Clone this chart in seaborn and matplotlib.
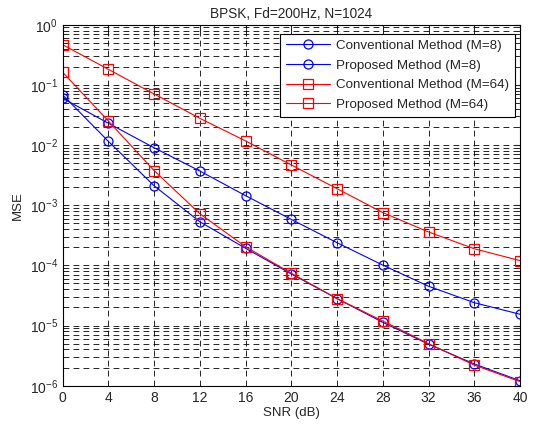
import pandas as pd
import matplotlib.pyplot as plt
import seaborn as sns
import numpy as np

# === Data ===
snr = [0, 4, 8, 12, 16, 20, 24, 28, 32, 36, 40]
conv_m8 = [0.060, 0.023, 0.0090, 0.0037, 0.00144, 5.8e-4, 2.38e-4, 1.01e-4, 4.5e-5, 2.4e-5, 1.54e-5]
prop_m8 = [0.068, 0.0115, 0.0021, 5.3e-4, 1.92e-4, 7.2e-5, 2.8e-5, 1.13e-5, 4.9e-6, 2.3e-6, 1.21e-6]
conv_m64 = [0.465, 0.181, 0.0705, 0.0278, 0.0117, 0.00466, 0.00188, 7.55e-4, 3.59e-4, 1.89e-4, 1.2e-4]
prop_m64 = [0.162, 0.025, 0.00375, 7.2e-4, 2.04e-4, 7.4e-5, 2.8e-5, 1.19e-5, 5.0e-6, 2.2e-6, 1.17e-6]

series = [
    ('Conventional Method (M=8)', conv_m8, 'blue', 'o'),
    ('Proposed Method (M=8)', prop_m8, 'blue', 'o'),
    ('Conventional Method (M=64)', conv_m64, 'red', 's'),
    ('Proposed Method (M=64)', prop_m64, 'red', 's'),
]

# === Plot Setup ===
sns.set_style("white")
plt.rcParams['font.family'] = ['Liberation Sans', 'DejaVu Sans']
plt.rcParams['mathtext.fontset'] = 'custom'
plt.rcParams['mathtext.rm'] = 'Liberation Sans'

fig = plt.figure(figsize=(5.34, 4.24), dpi=100)
ax = fig.add_axes([0.1174, 0.0903, 0.8564, 0.8514])

for name, vals, color, marker in series:
    df = pd.DataFrame({'SNR': snr, 'MSE': vals})
    sns.lineplot(data=df, x='SNR', y='MSE', ax=ax, color=color, marker=marker,
                 markersize=6.5 if marker == 'o' else 7, markerfacecolor='none',
                 markeredgecolor=color, markeredgewidth=0.9, linewidth=0.8,
                 label=name)

# === Axes ===
ax.set_yscale('log')
ax.set_xlim(0, 40)
ax.set_ylim(1e-6, 1)
ax.set_xticks(np.arange(0, 41, 4))
ax.set_yticks([1e-6, 1e-5, 1e-4, 1e-3, 1e-2, 1e-1, 1e0])

# MATLAB-like dashed grid (major + minor)
ax.grid(True, which='major', linestyle=(0, (7, 5)), color='black', linewidth=0.6)
ax.grid(True, which='minor', axis='y', linestyle=(0, (7, 5)), color='black', linewidth=0.6)
ax.set_axisbelow(True)
ax.tick_params(which='both', direction='in', top=True, right=True, labelsize=10)
ax.tick_params(which='major', length=4)
ax.tick_params(which='minor', length=2)
for sp in ax.spines.values():
    sp.set_color('black')
    sp.set_linewidth(0.8)

# === Labels ===
ax.set_title('BPSK, Fd=200Hz, N=1024', fontsize=9.8, pad=5)
ax.set_xlabel('SNR (dB)', fontsize=9.5, labelpad=2)
ax.set_ylabel('MSE', fontsize=9.5, labelpad=4)

leg = ax.legend(loc='upper right', fontsize=9.6, handlelength=3.3, handletextpad=0.45,
                frameon=True, fancybox=False, edgecolor='black', framealpha=1,
                bbox_to_anchor=(0.99, 0.975), borderaxespad=0.0,
                labelspacing=0.55, borderpad=0.45)
leg.get_frame().set_linewidth(0.8)

plt.savefig('out.png', dpi=100)
